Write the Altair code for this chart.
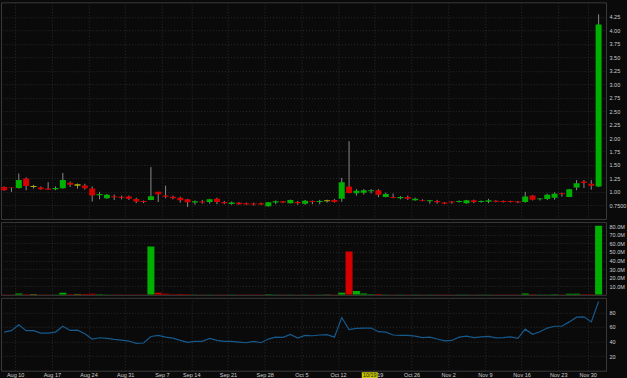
import altair as alt
import pandas as pd

# trading-day index (0 = Aug 10), candles from two days before
idx = list(range(-2, 80))

opens = [1.09, 1.08, 1.07, 1.25, 1.11, 1.08, 1.06, 1.05, 1.065, 1.17,
         1.14, 1.12, 1.06, 0.935, 0.88, 0.92, 0.91, 0.915, 0.865, 0.83,
         0.85, 1.00, 0.93, 0.91, 0.89, 0.86, 0.80, 0.82, 0.81, 0.87,
         0.81, 0.775, 0.795, 0.79, 0.785, 0.79, 0.73, 0.80, 0.825, 0.79,
         0.81, 0.78, 0.83, 0.81, 0.845, 0.85, 0.87, 1.10, 0.975, 0.985,
         1.01, 1.03, 0.905, 0.905, 0.88, 0.905, 0.845, 0.85, 0.825, 0.83,
         0.80, 0.82, 0.81, 0.79, 0.845, 0.81, 0.815, 0.835, 0.83, 0.83,
         0.82, 0.81, 0.93, 0.86, 0.865, 0.89, 0.975, 0.905, 1.08, 1.19,
         1.15, 1.10]
closes = [1.03, 1.07, 1.22, 1.11, 1.09, 1.05, 1.04, 1.07, 1.22, 1.13,
          1.115, 1.065, 0.93, 0.96, 0.945, 0.90, 0.89, 0.87, 0.82, 0.81,
          0.92, 0.955, 0.91, 0.88, 0.845, 0.805, 0.825, 0.80, 0.86, 0.81,
          0.79, 0.80, 0.77, 0.765, 0.765, 0.765, 0.805, 0.825, 0.80, 0.85,
          0.79, 0.835, 0.81, 0.83, 0.825, 0.81, 1.18, 0.98, 1.02, 1.03,
          1.03, 0.945, 0.96, 0.885, 0.905, 0.87, 0.87, 0.835, 0.845, 0.805,
          0.78, 0.80, 0.83, 0.845, 0.81, 0.83, 0.845, 0.815, 0.81, 0.81,
          0.80, 0.915, 0.855, 0.875, 0.945, 0.965, 0.955, 1.05, 1.16, 1.165,
          1.115, 4.11]
highs = [1.10, 1.08, 1.34, 1.27, 1.13, 1.10, 1.18, 1.10, 1.35, 1.19,
         1.155, 1.15, 1.10, 1.00, 0.96, 0.95, 0.93, 0.93, 0.89, 0.84,
         1.46, 1.00, 1.115, 0.93, 0.91, 0.87, 0.84, 0.85, 0.87, 0.89,
         0.83, 0.82, 0.81, 0.80, 0.80, 0.80, 0.81, 0.84, 0.83, 0.855,
         0.83, 0.85, 0.84, 0.85, 0.855, 0.87, 1.26, 1.94, 1.05, 1.05,
         1.05, 1.05, 0.985, 0.97, 0.92, 0.93, 0.89, 0.86, 0.85, 0.85,
         0.81, 0.83, 0.84, 0.85, 0.855, 0.84, 0.87, 0.845, 0.84, 0.835,
         0.83, 1.00, 0.94, 0.88, 0.965, 0.99, 0.985, 1.055, 1.22, 1.22,
         1.22, 4.30]
lows = [1.02, 1.00, 1.06, 1.03, 1.06, 1.04, 1.04, 1.03, 1.06, 1.09,
        1.06, 1.04, 0.82, 0.86, 0.87, 0.85, 0.86, 0.85, 0.79, 0.79,
        0.845, 0.81, 0.88, 0.86, 0.80, 0.72, 0.76, 0.78, 0.78, 0.77,
        0.77, 0.76, 0.76, 0.76, 0.745, 0.76, 0.725, 0.77, 0.79, 0.785,
        0.76, 0.76, 0.77, 0.77, 0.80, 0.80, 0.815, 0.97, 0.93, 0.95,
        0.97, 0.90, 0.90, 0.88, 0.86, 0.85, 0.835, 0.825, 0.78, 0.78,
        0.77, 0.78, 0.80, 0.78, 0.79, 0.80, 0.79, 0.805, 0.80, 0.80,
        0.79, 0.80, 0.84, 0.84, 0.85, 0.855, 0.91, 0.90, 1.03, 1.07,
        1.04, 1.09]
directions = ["down", "down", "up", "down", "flat", "down", "down", "up", "up", "down",
              "flat", "down", "down", "up", "up", "down", "down", "down", "down", "down",
              "up", "down", "down", "down", "down", "down", "up", "down", "up", "down",
              "down", "up", "down", "down", "down", "down", "up", "up", "down", "up",
              "down", "up", "down", "up", "flat", "down", "up", "down", "up", "up",
              "up", "down", "up", "down", "up", "down", "up", "down", "up", "down",
              "down", "down", "up", "up", "down", "up", "up", "down", "down", "down",
              "down", "up", "down", "up", "up", "up", "down", "up", "up", "down",
              "down", "up"]
volumes_m = [0.3, 0.3, 1.5, 0.6, 0.6, 0.4, 0.4, 0.5, 2.5, 0.8,
             0.7, 1.0, 1.2, 0.6, 0.5, 0.3, 0.3, 0.3, 0.3, 0.3,
             56.3, 2.5, 1.2, 0.6, 1.0, 0.6, 0.5, 0.4, 0.4, 0.3,
             0.3, 0.3, 0.3, 0.3, 0.4, 0.3, 0.6, 0.4, 0.3, 0.4,
             0.3, 0.3, 0.3, 0.3, 0.3, 0.3, 2.5, 50.5, 4.5, 1.5,
             0.6, 1.0, 0.5, 0.4, 0.4, 0.4, 0.4, 0.4, 0.3, 0.3,
             0.3, 0.3, 0.4, 0.5, 0.3, 0.3, 0.3, 0.3, 0.3, 0.3,
             0.3, 1.5, 0.6, 0.4, 0.5, 0.6, 0.5, 1.2, 1.3, 0.6,
             0.6, 80.6]
rsi = [53, 55, 63, 55, 55, 51.6, 51.6, 53, 61, 55.3,
       55.7, 50.7, 43.4, 45.2, 44.3, 43, 42, 40.7, 37.5, 38,
       47, 48.5, 46, 44.7, 41.6, 38.9, 40.2, 40.2, 44.3, 41.6,
       40.2, 40.2, 39.3, 38.4, 40.2, 38.4, 43.4, 46, 45.7, 49.8,
       44.8, 48.5, 48, 49, 49.5, 46, 73, 56.5, 58, 58.5,
       58.5, 53.5, 53, 49, 48.5, 48.5, 47.5, 45.5, 46, 43.5,
       41, 41.5, 46, 47.5, 45.5, 46.5, 47, 45, 45.5, 46.5,
       44.5, 57, 50, 53.5, 58.5, 61, 61, 67, 73.5, 74,
       67, 95]

week_labels = ["Aug 10", "Aug 17", "Aug 24", "Aug 31", "Sep 7", "Sep 14", "Sep 21",
               "Sep 28", "Oct 5", "Oct 12", "Oct 19", "Oct 26", "Nov 2", "Nov 9",
               "Nov 16", "Nov 23", "Nov 30"]
week_start_idx = [0, 5, 10, 15, 20, 24, 29, 34, 39, 44, 49, 54, 59, 64, 69, 74, 78]

# crosshair date marker shown on the time axis
marker_label = "10/19"
marker_week = 10

price_ticks = [0.75, 1.0, 1.25, 1.5, 1.75, 2.0, 2.25, 2.5, 2.75, 3.0, 3.25, 3.5, 3.75, 4.0, 4.25]
volume_ticks = [10, 20, 30, 40, 50, 60, 70, 80]
rsi_ticks = [20, 40, 60, 80]

df = pd.DataFrame({"i": idx, "open": opens, "close": closes, "high": highs,
                   "low": lows, "dir": directions, "vol": volumes_m, "rsi": rsi})
marker_df = pd.DataFrame({"i": [week_start_idx[marker_week] - 0.5], "label": [marker_label]})

GREEN, RED, YELLOW = "#00b000", "#d40000", "#b4b000"
BG = "#0a0a0a"
GRID = "#2c2c2c"
LABEL = "#cfcfcf"
FONT = "Liberation Sans"

grid_vals = [w - 0.5 for w in week_start_idx]
xscale = alt.Scale(domain=[-1.745, 79.33], nice=False, zero=False)
color = alt.Color("dir:N", scale=alt.Scale(domain=["up", "down", "flat"],
                                           range=[GREEN, RED, YELLOW]), legend=None)

grid_axis = alt.Axis(values=grid_vals, labels=False, ticks=False, domain=False,
                     grid=True, gridColor=GRID, gridDash=[1, 2], title=None)
arr_vals = "[" + ",".join(str(v) for v in grid_vals) + "]"
arr_labs = "[" + ",".join("'" + s + "'" for s in week_labels) + "]"
bottom_axis = alt.Axis(values=grid_vals, labelExpr=f"{arr_labs}[indexof({arr_vals}, datum.value)]",
                       ticks=False, domain=False, grid=True, gridColor=GRID, gridDash=[1, 2],
                       labelFontSize=5.5, labelColor=LABEL, labelFont=FONT, labelPadding=2,
                       labelOverlap=False, labelFlush=False, labelBound=False, title=None)

def yaxis(values, expr):
    return alt.Axis(orient="right", values=values, labelExpr=expr, ticks=False, domain=False,
                    grid=True, gridColor=GRID, gridDash=[1, 2], labelFontSize=5.5,
                    labelColor=LABEL, labelFont=FONT, labelPadding=3, labelAlign="left",
                    labelFlush=False, labelOverlap=False, labelBound=False, title=None)

price_axis = yaxis(price_ticks, "datum.value == 0.75 ? '0.7500' : format(datum.value, '.2f')")
price_scale = alt.Scale(domain=[0.496, 4.523], nice=False, zero=False)

base = alt.Chart(df)

wicks = base.mark_rule(color="#8a8a8a", strokeWidth=1, clip=True).encode(
    x=alt.X("i:Q", scale=xscale, axis=grid_axis),
    y=alt.Y("low:Q", scale=price_scale, axis=price_axis),
    y2="high:Q",
)
bodies = base.mark_bar(size=6, clip=True).encode(
    x=alt.X("i:Q", scale=xscale, axis=grid_axis),
    y=alt.Y("open:Q", scale=price_scale, axis=price_axis),
    y2="close:Q", color=color,
)
price = alt.layer(wicks, bodies).properties(width=606, height=217)

volume = base.mark_bar(size=7, clip=True).encode(
    x=alt.X("i:Q", scale=xscale, axis=grid_axis),
    y=alt.Y("vol:Q", scale=alt.Scale(domain=[0, 85.0], nice=False),
            axis=yaxis(volume_ticks, "format(datum.value, '.1f') + 'M'")),
    color=color,
).properties(width=606, height=73)

rsi_scale = alt.Scale(domain=[0, 100], nice=False)
rsi_axis = yaxis(rsi_ticks, "format(datum.value, 'd')")
rsi_line = base.mark_line(color="#16598c", strokeWidth=1.2, clip=True).encode(
    x=alt.X("i:Q", scale=xscale, axis=bottom_axis),
    y=alt.Y("rsi:Q", scale=rsi_scale, axis=rsi_axis),
)
mk = alt.Chart(marker_df)
marker_box = mk.mark_bar(size=16, xOffset=-5, color="#c8c800").encode(
    x=alt.X("i:Q", scale=xscale, axis=bottom_axis), y=alt.value(74.5), y2=alt.value(80.5),
)
marker_text = mk.mark_text(xOffset=-5, fontSize=5.5, font=FONT, color="#202000",
                           baseline="middle").encode(
    x=alt.X("i:Q", scale=xscale, axis=bottom_axis), y=alt.value(77.5), text="label:N",
)
rsi_panel = alt.layer(rsi_line, marker_box, marker_text).properties(width=606, height=73)

chart = alt.vconcat(price, volume, rsi_panel, spacing=3, bounds="flush").properties(
    background=BG,
    padding={"left": 0, "top": 1, "right": 0, "bottom": 0},
).configure_view(stroke="#3a3a3a", fill=BG, strokeWidth=1)

chart.save("out.html", embed_options={"renderer": "svg", "actions": False})
